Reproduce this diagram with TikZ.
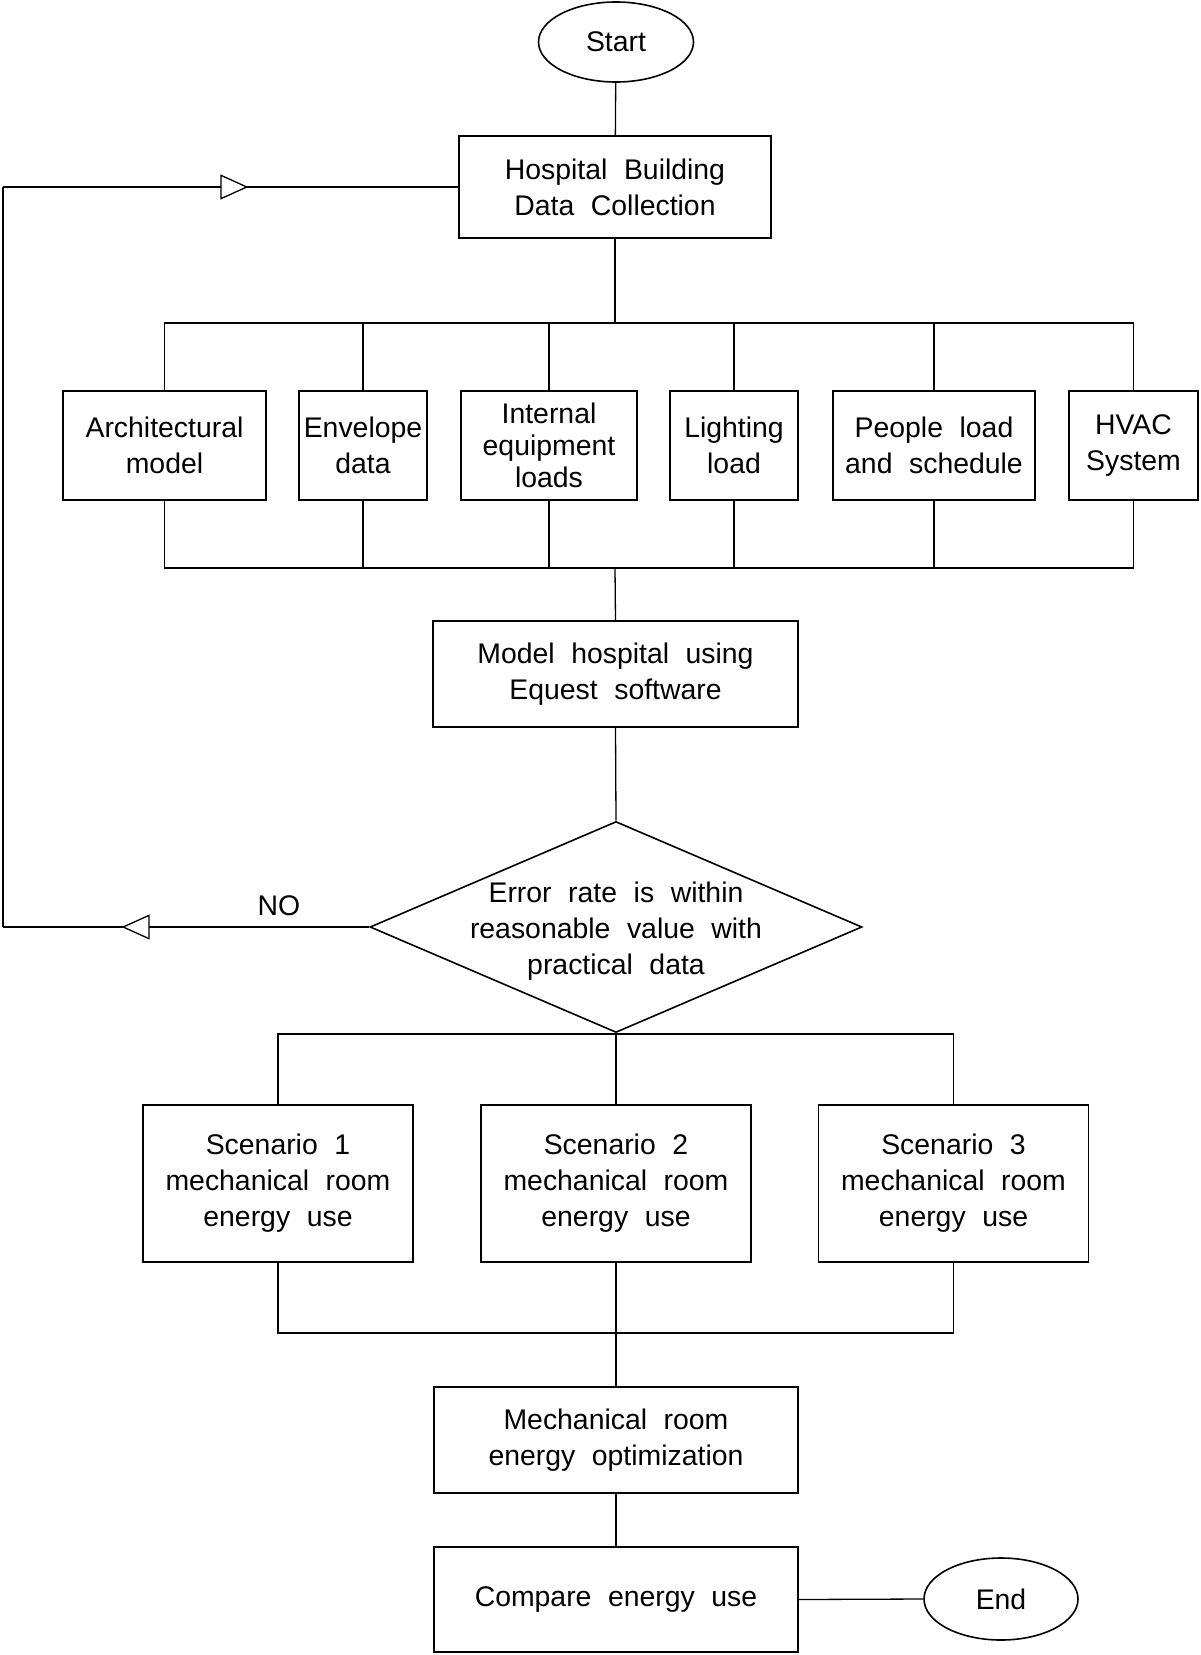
\documentclass[tikz,border=0pt]{standalone}
\usepackage{fontspec}
\setmainfont{Liberation Sans}[WordSpace={2.1}]
\usetikzlibrary{shapes.geometric,arrows.meta,decorations.markings}
\begin{document}
\begin{tikzpicture}[x=1bp,y=-1bp,
  txt/.style={font=\fontsize{28.5}{36}\selectfont, align=center, inner sep=0pt},
  box/.style={txt, draw, line width=1.6bp, rectangle},
  term/.style={txt, draw, line width=1.6bp, ellipse},
  conn/.style={line width=1.3bp},
  midarrow/.style={postaction={decorate}, decoration={markings,
     mark=at position #1 with {\arrow{Triangle[length=28bp,width=25bp,fill=white,line width=1.3bp]}}}}]
\useasboundingbox (0,0) rectangle (1200,1655);
% terminals
\node[term, minimum width=155bp, minimum height=80bp] (start) at (616,42) {Start};
\node[term, minimum width=154bp, minimum height=82bp] (end) at (1001,1599) {End};
% main boxes
\node[box, minimum width=312bp, minimum height=102bp] (hosp) at (615,187) {Hospital Building\\Data Collection};
\node[box, minimum width=203bp, minimum height=109bp] (arch) at (164.5,445.5) {Architectural\\model};
\node[box, minimum width=128bp, minimum height=109bp] (env) at (363,445.5) {Envelope\\data};
\node[box, minimum width=176bp, minimum height=109bp, font=\fontsize{28.5}{32}\selectfont] (int) at (549,445.5) {Internal\\equipment\\loads};
\node[box, minimum width=128bp, minimum height=109bp] (light) at (734,445.5) {Lighting\\load};
\node[box, minimum width=202bp, minimum height=109bp] (people) at (934,445.5) {People load\\and schedule};
\node[box, minimum width=129bp, minimum height=109bp] (hvac) at (1133.5,445.5) {HVAC\\System};
\node[box, minimum width=365bp, minimum height=106bp] (model) at (615.5,674) {Model hospital using\\Equest software};
\node[draw, line width=1.6bp, diamond, minimum width=492bp, minimum height=211bp, inner sep=0pt] (dec) at (616,927) {};
\node[txt] (dectext) at (616,931) {Error rate is within\\reasonable value with\\practical data};
\node[txt] (no) at (279,906) {NO};
\node[box, minimum width=270bp, minimum height=157bp] (s1) at (278,1183.5) {Scenario 1\\mechanical room\\energy use};
\node[box, minimum width=270bp, minimum height=157bp] (s2) at (616,1183.5) {Scenario 2\\mechanical room\\energy use};
\node[box, minimum width=270bp, minimum height=157bp] (s3) at (953.5,1183.5) {Scenario 3\\mechanical room\\energy use};
\node[box, minimum width=364bp, minimum height=106bp] (mech) at (616,1440) {Mechanical room\\energy optimization};
\node[box, minimum width=364bp, minimum height=105bp] (cmp) at (616,1599.5) {Compare energy use};
% bus coordinates
\coordinate (bus1) at (615,323);
\coordinate (bus2) at (615,568);
\coordinate (bus3) at (616,1034);
\coordinate (bus4) at (616,1333);
\coordinate (fbB) at (3,927);
\coordinate (fbT) at (3,187);
% connectors
\draw[conn] (start) -- (hosp);
\draw[conn] (hosp.south) -- (bus1);
\foreach \n in {arch,env,int,light,people,hvac}{
  \draw[conn] (\n.north) |- (bus1);
  \draw[conn] (\n.south) |- (bus2);
}
\draw[conn] (bus2) -- (model.north);
\draw[conn] (model.south) -- (dec.north);
\draw[conn] (dec.south) -- (bus3);
\foreach \n in {s1,s2,s3}{
  \draw[conn] (\n.north) |- (bus3);
  \draw[conn] (\n.south) |- (bus4);
}
\draw[conn] (bus4) -- (mech.north);
\draw[conn] (mech.south) -- (cmp.north);
\draw[conn] (cmp.east) -- (end.west);
% feedback loop
\draw[conn, midarrow=0.676] (dec.west) -- (fbB);
\draw[conn] (fbB) -- (fbT);
\draw[conn, midarrow=0.539] (fbT) -- (hosp.west);
\end{tikzpicture}
\end{document}
